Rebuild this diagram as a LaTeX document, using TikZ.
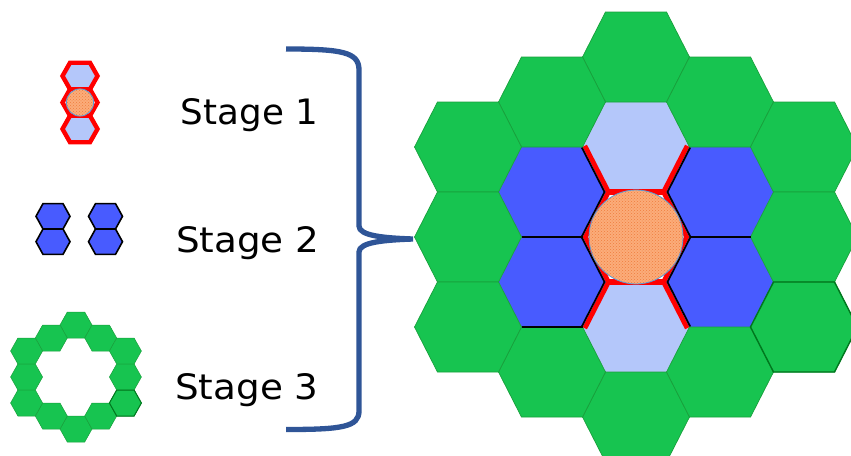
\documentclass[tikz,border=0pt]{standalone}
\usepackage{fontspec}
\setmainfont{DejaVu Sans}
\usepackage{tikz}
\usetikzlibrary{positioning, patterns}

\definecolor{cellgreen}{RGB}{23,196,80}
\definecolor{edgegreen}{RGB}{25,160,60}
\definecolor{darkgreen}{RGB}{0,120,30}
\definecolor{lightcell}{RGB}{180,199,250}
\definecolor{darkcell}{RGB}{72,91,255}
\definecolor{bracecol}{RGB}{47,85,151}
\definecolor{coreorange}{RGB}{251,172,122}
\definecolor{dotorange}{RGB}{240,125,60}
\definecolor{rimblue}{RGB}{91,155,213}

% hexagon: centre (#1,#2), half width #3, half top edge #4, half height #5
\newcommand\hexcell[5]{(#1-#3,#2) -- (#1-#4,#2-#5) -- (#1+#4,#2-#5) -- (#1+#3,#2) -- (#1+#4,#2+#5) -- (#1-#4,#2+#5) -- cycle}
\newcommand\bighex[2]{\hexcell{#1}{#2}{53.5}{30.5}{45}}

\tikzset{
  palecell/.style={fill=lightcell},
  bluecell/.style={fill=darkcell},
  greencell/.style={fill=cellgreen, draw=edgegreen, line width=0.7pt},
  rimcell/.style={draw=darkgreen, line width=1.4pt},
  redrim/.style={draw=red, line width=#1},
  blackrim/.style={draw=black, line width=#1},
  core/.style={preaction={fill=coreorange}, pattern=crosshatch dots, pattern color=dotorange, draw=rimblue, line width=0.8pt},
  stagelabel/.style={inner sep=0pt, anchor=base west, font=\fontsize{35}{40}\selectfont},
  bracestroke/.style={draw=bracecol, line width=5.3pt}
}

\begin{document}
\begin{tikzpicture}[x=1pt, y=-1pt]
\useasboundingbox (0,0) rectangle (851,455);

% stage 1 icon
\filldraw[palecell, redrim=4.4pt] \hexcell{80}{76}{17.5}{10}{13.25};
\filldraw[fill=white, redrim=4.4pt] \hexcell{80}{102.5}{17.5}{10}{13.25};
\filldraw[palecell, redrim=4.4pt] \hexcell{80}{129}{17.5}{10}{13.25};
\filldraw[core] (80,102.5) circle [radius=13.6pt];

% stage 2 icon
\foreach \x in {53,105.5}
  \foreach \y in {216.3,241.7}
    \filldraw[bluecell, blackrim=1.6pt] \hexcell{\x}{\y}{17}{10}{12.7};

% stage 3 icon
\foreach \c/\k in {0/-4,0/4,-1/-3,-1/3,1/-3,1/3,-2/-2,-2/0,-2/2,2/-2,2/0,2/2}
  \filldraw[greencell, line width=0.5pt] \hexcell{76+\c*24.7}{377+\k*13}{16}{8.7}{13};
\draw[rimcell, line width=1pt] \hexcell{125.4}{403}{16}{8.7}{13};

% labels
\node (stage1) [stagelabel, xscale=1.02] at (180.6,124.3) {Stage 1};
\node (stage2) [stagelabel, xscale=1.065] at (175.8,252.3) {Stage 2};
\node (stage3) [stagelabel, xscale=1.065] at (175,399) {Stage 3};

% brace
\coordinate (tip) at (413,239);
\draw[bracestroke] (286,49) .. controls (342,49) and (359,52) .. (359,70) -- (359,226)
  .. controls (359,236) and (385,238) .. (tip) .. controls (385,240) and (359,242) .. (359,252)
  -- (359,411) .. controls (359,427) and (342,429.5) .. (286,429.5);

% assembled mirror
\fill[palecell] \bighex{636}{147} \bighex{636}{327};
\fill[white] \bighex{636}{237};
\begin{scope}
  \clip \bighex{636}{147} \bighex{636}{237} \bighex{636}{327};
  \draw[redrim=10pt] (582.5,147) -- (605.5,192) -- (582.5,237) -- (605.5,282) -- (582.5,327)
    (689.5,147) -- (666.5,192) -- (689.5,237) -- (666.5,282) -- (689.5,327);
  \draw[redrim=5.4pt] (605.5,192) -- (666.5,192) (605.5,282) -- (666.5,282);
\end{scope}
\foreach \x in {552,720}
  \foreach \y in {192,282}
    \fill[bluecell] \bighex{\x}{\y};
\begin{scope}
  \clip \bighex{552}{192} \bighex{552}{282} \bighex{720}{192} \bighex{720}{282};
  \draw[blackrim=3.4pt] (582.5,147) -- (605.5,192) -- (582.5,237) -- (605.5,282) -- (582.5,327)
    (689.5,147) -- (666.5,192) -- (689.5,237) -- (666.5,282) -- (689.5,327);
\end{scope}
\foreach \c/\k in {0/-4,0/4,-1/-3,-1/3,1/-3,1/3,-2/-2,-2/0,-2/2,2/-2,2/0,2/2}
  \filldraw[greencell] \bighex{636+\c*84}{237+\k*45};
\draw[rimcell] \bighex{804}{327};
\draw[blackrim=1.6pt] (521.5,237) -- (582.5,237) (521.5,327) -- (582.5,327) (689.5,237) -- (750.5,237);
\filldraw[core] (636,237) circle [radius=47pt];
\end{tikzpicture}
\end{document}
